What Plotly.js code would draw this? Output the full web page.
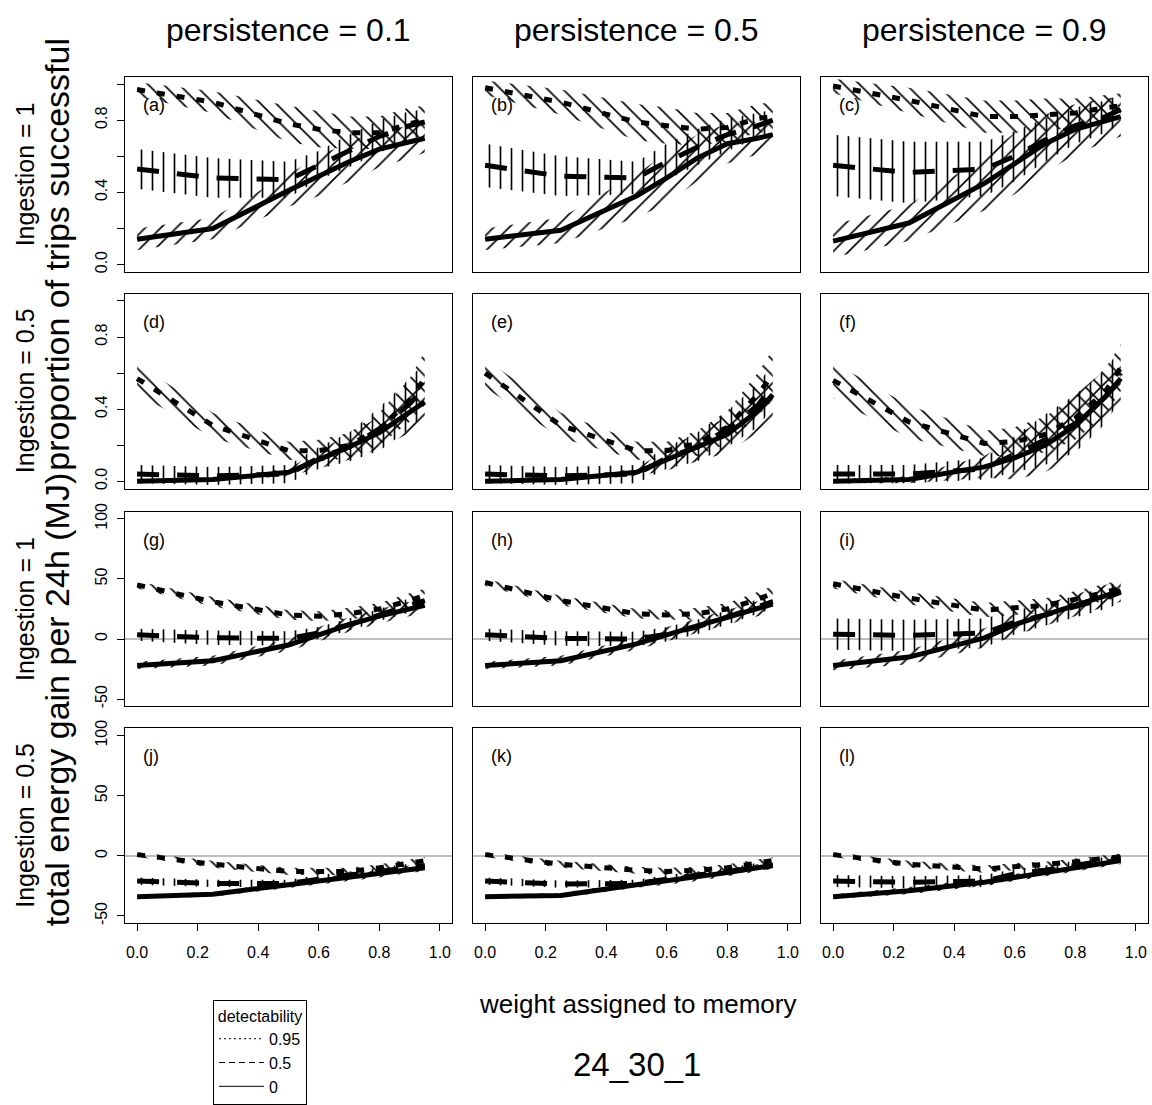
<!DOCTYPE html>
<html>
<head>
<meta charset="utf-8">
<script src="https://cdn.plot.ly/plotly-3.0.1.min.js"></script>
<style>html,body{margin:0;padding:0;background:#fff;}#chart{width:1152px;height:1105px;}</style>
</head>
<body>
<div id="chart"></div>
<script>
// ---------- data ----------
const memoryWeight = [0, 0.25, 0.5, 0.6, 0.7, 0.8, 0.9, 0.95];
const persistenceLabels = ['persistence = 0.1', 'persistence = 0.5', 'persistence = 0.9'];
const ingestionLabels = ['Ingestion = 1', 'Ingestion = 0.5', 'Ingestion = 1', 'Ingestion = 0.5'];
const panelLetters = ['(a)','(b)','(c)','(d)','(e)','(f)','(g)','(h)','(i)','(j)','(k)','(l)'];
const detectabilityLabels = ['0.95', '0.5', '0'];
const xTickVals = [0, 0.2, 0.4, 0.6, 0.8, 1.0];
const xTickText = ['0.0', '0.2', '0.4', '0.6', '0.8', '1.0'];
const propTickVals = [0, 0.2, 0.4, 0.6, 0.8, 1.0];
const propTickText = ['0.0', '', '0.4', '', '0.8', ''];
const energyTickVals = [-50, 0, 50, 100];
const energyTickText = ['-50', '0', '50', '100'];

// proportion of trips successful, Ingestion = 1
const a_mean095 = [0.97, 0.90, 0.78, 0.75, 0.73, 0.73, 0.78, 0.80];
const a_half095 = [0.04, 0.06, 0.10, 0.10, 0.09, 0.09, 0.09, 0.08];
const a_mean050 = [0.53, 0.48, 0.47, 0.55, 0.63, 0.71, 0.77, 0.79];
const a_half050 = [0.11, 0.11, 0.10, 0.08, 0.09, 0.09, 0.08, 0.07];
const a_mean000 = [0.14, 0.20, 0.41, 0.49, 0.57, 0.64, 0.68, 0.70];
const a_half000 = [0.06, 0.06, 0.09, 0.11, 0.11, 0.10, 0.09, 0.08];

const b_mean095 = [0.98, 0.90, 0.79, 0.77, 0.75, 0.76, 0.81, 0.82];
const b_half095 = [0.04, 0.07, 0.10, 0.10, 0.09, 0.08, 0.08, 0.08];
const b_mean050 = [0.55, 0.49, 0.48, 0.57, 0.65, 0.72, 0.77, 0.80];
const b_half050 = [0.12, 0.11, 0.09, 0.10, 0.10, 0.09, 0.07, 0.06];
const b_mean000 = [0.14, 0.19, 0.38, 0.48, 0.59, 0.67, 0.70, 0.72];
const b_half000 = [0.06, 0.07, 0.12, 0.14, 0.13, 0.11, 0.09, 0.07];

const c_mean095 = [0.99, 0.91, 0.82, 0.82, 0.83, 0.84, 0.87, 0.88];
const c_half095 = [0.04, 0.07, 0.09, 0.09, 0.09, 0.08, 0.07, 0.07];
const c_mean050 = [0.55, 0.51, 0.53, 0.60, 0.69, 0.77, 0.82, 0.86];
const c_half050 = [0.17, 0.17, 0.15, 0.14, 0.12, 0.10, 0.09, 0.08];
const c_mean000 = [0.13, 0.23, 0.45, 0.56, 0.67, 0.75, 0.80, 0.82];
const c_half000 = [0.09, 0.10, 0.15, 0.17, 0.16, 0.14, 0.12, 0.11];

// proportion of trips successful, Ingestion = 0.5
const d_mean095 = [0.57, 0.31, 0.17, 0.17, 0.20, 0.29, 0.45, 0.57];
const d_half095 = [0.08, 0.07, 0.05, 0.06, 0.07, 0.09, 0.12, 0.15];
const d_mean050 = [0.04, 0.03, 0.04, 0.13, 0.19, 0.29, 0.43, 0.52];
const d_half050 = [0.05, 0.05, 0.05, 0.06, 0.08, 0.12, 0.14, 0.14];
const d_mean000 = [0.00, 0.01, 0.05, 0.12, 0.19, 0.27, 0.38, 0.44];
const d_half000 = [0.01, 0.01, 0.02, 0.05, 0.07, 0.09, 0.11, 0.12];

const e_mean095 = [0.60, 0.31, 0.17, 0.17, 0.21, 0.30, 0.48, 0.59];
const e_half095 = [0.08, 0.07, 0.05, 0.05, 0.07, 0.09, 0.12, 0.14];
const e_mean050 = [0.04, 0.03, 0.04, 0.13, 0.19, 0.29, 0.42, 0.53];
const e_half050 = [0.05, 0.05, 0.05, 0.06, 0.08, 0.10, 0.12, 0.12];
const e_mean000 = [0.00, 0.01, 0.05, 0.12, 0.19, 0.26, 0.39, 0.48];
const e_half000 = [0.01, 0.01, 0.02, 0.06, 0.08, 0.10, 0.12, 0.12];

const f_mean095 = [0.56, 0.33, 0.21, 0.22, 0.26, 0.35, 0.50, 0.63];
const f_half095 = [0.10, 0.09, 0.07, 0.08, 0.10, 0.12, 0.13, 0.13];
const f_mean050 = [0.04, 0.04, 0.07, 0.15, 0.23, 0.32, 0.47, 0.60];
const f_half050 = [0.05, 0.05, 0.06, 0.10, 0.14, 0.16, 0.15, 0.14];
const f_mean000 = [0.00, 0.01, 0.08, 0.13, 0.20, 0.31, 0.47, 0.57];
const f_half000 = [0.01, 0.02, 0.06, 0.12, 0.15, 0.17, 0.15, 0.13];

// total energy gain per 24h (MJ), Ingestion = 1
const g_mean095 = [45, 31, 20, 19, 21, 25, 32, 36];
const g_half095 = [3, 4, 4, 4, 5, 5, 6, 6];
const g_mean050 = [3.5, 1, 0.5, 5, 12, 20, 28, 32];
const g_half050 = [5, 6, 6, 5, 5, 5, 6, 6];
const g_mean000 = [-22, -18, -5, 4, 12, 19, 25, 28];
const g_half000 = [3, 4, 5, 6, 6, 6, 6, 6];

const h_mean095 = [47, 32, 21, 20, 21, 25, 33, 38];
const h_half095 = [3, 4, 4, 4, 5, 5, 6, 6];
const h_mean050 = [3.5, 0.5, 0, 4, 10, 18, 27, 31];
const h_half050 = [5, 6, 6, 6, 6, 6, 6, 6];
const h_mean000 = [-22, -18, -4, 4, 11, 18, 25, 29];
const h_half000 = [3, 4, 5, 6, 6, 6, 6, 6];

const i_mean095 = [46, 34, 24, 26, 28, 33, 39, 42];
const i_half095 = [4, 5, 6, 6, 6, 7, 7, 7];
const i_mean050 = [4, 3, 5, 14, 20, 27, 34, 39];
const i_half050 = [13, 13, 12, 10, 9, 9, 9, 9];
const i_mean000 = [-22, -15, 1, 12, 20, 28, 36, 40];
const i_half000 = [4, 6, 8, 9, 9, 9, 9, 9];

// total energy gain per 24h (MJ), Ingestion = 0.5
const j_mean095 = [1, -7, -13, -13, -13, -10, -6, -4];
const j_half095 = [2, 3, 3, 3, 3, 3, 3, 3];
const j_mean050 = [-21, -23, -23, -19, -16, -13, -10, -8];
const j_half050 = [3, 3, 3, 3, 3, 3, 3, 3];
const j_mean000 = [-34, -32, -24, -21, -18, -15, -11, -10];
const j_half000 = [1.5, 2, 2.5, 3, 3, 3, 3, 3];

const k_mean095 = [1, -7, -12, -13, -12, -10, -6, -4];
const k_half095 = [2, 3, 3, 3, 3, 3, 3, 3];
const k_mean050 = [-21, -23.5, -23, -19, -16, -13, -9, -8];
const k_half050 = [3, 3, 3, 3, 3, 3, 3, 3];
const k_mean000 = [-34, -33, -24, -21, -18, -14, -10, -8];
const k_half000 = [1.5, 2, 2.5, 3, 3, 3, 3, 3];

const l_mean095 = [1, -7, -11, -9, -8, -5, -2, -1];
const l_half095 = [2, 3, 3, 3, 3, 3, 3, 3];
const l_mean050 = [-21, -22, -21, -15, -12, -8, -4, -2];
const l_half050 = [5, 5, 5, 4, 4, 4, 3, 3];
const l_mean000 = [-34, -29, -22, -18, -14, -10, -6, -4];
const l_half000 = [2, 3, 3, 3, 3, 3, 3, 3];

// ---------- assemble ----------
const panelSeries = [
  [a_mean095, a_half095, a_mean050, a_half050, a_mean000, a_half000],
  [b_mean095, b_half095, b_mean050, b_half050, b_mean000, b_half000],
  [c_mean095, c_half095, c_mean050, c_half050, c_mean000, c_half000],
  [d_mean095, d_half095, d_mean050, d_half050, d_mean000, d_half000],
  [e_mean095, e_half095, e_mean050, e_half050, e_mean000, e_half000],
  [f_mean095, f_half095, f_mean050, f_half050, f_mean000, f_half000],
  [g_mean095, g_half095, g_mean050, g_half050, g_mean000, g_half000],
  [h_mean095, h_half095, h_mean050, h_half050, h_mean000, h_half000],
  [i_mean095, i_half095, i_mean050, i_half050, i_mean000, i_half000],
  [j_mean095, j_half095, j_mean050, j_half050, j_mean000, j_half000],
  [k_mean095, k_half095, k_mean050, k_half050, k_mean000, k_half000],
  [l_mean095, l_half095, l_mean050, l_half050, l_mean000, l_half000]
];

const W = 1152, H = 1105;
const colPx = [[125, 452], [473, 800], [821, 1148]];
const rowPx = [[77, 272], [294, 489], [512, 707], [729, 924]];
const FONT = 'Liberation Sans, Arial, Helvetica, sans-serif';

const hatchShapes = ['\\', '|', '/'];
const lineDashes = ['8px,12px', '22px,18px', 'solid'];

const traces = [];
const layout = {
  width: W, height: H,
  margin: {l: 0, r: 0, t: 0, b: 0},
  paper_bgcolor: '#ffffff', plot_bgcolor: '#ffffff',
  font: {family: FONT, color: '#000000', size: 16},
  showlegend: true,
  annotations: [],
  legend: {
    x: 213 / W, y: 1 - 1001 / H, xanchor: 'left', yanchor: 'top',
    bordercolor: '#000000', borderwidth: 1, bgcolor: '#ffffff',
    font: {family: FONT, size: 16, color: '#000000'},
    title: {text: 'detectability', side: 'top center', font: {family: FONT, size: 16}},
    itemwidth: 45, tracegroupgap: 0
  }
};

for (let p = 0; p < 12; p++) {
  const row = Math.floor(p / 3), col = p % 3;
  const id = p === 0 ? '' : String(p + 1);
  const xa = 'x' + id, ya = 'y' + id;
  const isProp = row < 2;
  layout['xaxis' + id] = {
    domain: [colPx[col][0] / W, colPx[col][1] / W],
    anchor: ya, range: [-0.04, 1.04],
    showline: true, mirror: true, linecolor: '#000000', linewidth: 1,
    showgrid: false, zeroline: false,
    ticks: row === 3 ? 'outside' : '', ticklen: 7, tickcolor: '#000000',
    tickvals: xTickVals, ticktext: xTickText,
    showticklabels: row === 3, ticklabelstandoff: 8,
    tickfont: {family: FONT, size: 16}
  };
  layout['yaxis' + id] = {
    domain: [1 - rowPx[row][1] / H, 1 - rowPx[row][0] / H],
    anchor: xa, range: isProp ? [-0.04, 1.04] : [-56, 106],
    showline: true, mirror: true, linecolor: '#000000', linewidth: 1,
    showgrid: false,
    zeroline: !isProp, zerolinecolor: '#bebebe', zerolinewidth: 1.5,
    ticks: col === 0 ? 'outside' : '', ticklen: 7, tickcolor: '#000000',
    tickvals: isProp ? propTickVals : energyTickVals,
    ticktext: isProp ? propTickText : energyTickText,
    tickangle: -90,
    showticklabels: col === 0, ticklabelstandoff: 4,
    tickfont: {family: FONT, size: 16}
  };

  const s = panelSeries[p];
  // hatched uncertainty bands
  for (let k = 0; k < 3; k++) {
    const mean = s[2 * k], half = s[2 * k + 1];
    const hi = mean.map((v, n) => v + half[n]);
    const lo = mean.map((v, n) => v - half[n]);
    traces.push({
      type: 'scatter', mode: 'lines', xaxis: xa, yaxis: ya,
      x: memoryWeight.concat(memoryWeight.slice().reverse()),
      y: hi.concat(lo.slice().reverse()),
      fill: 'toself', fillcolor: '#000000',
      fillpattern: {shape: hatchShapes[k], fgcolor: '#000000', bgcolor: 'rgba(0,0,0,0)', size: 11, solidity: 0.15},
      line: {width: 0, color: 'rgba(0,0,0,0)'},
      hoverinfo: 'skip', showlegend: false
    });
  }
  // mean lines
  for (let k = 0; k < 3; k++) {
    traces.push({
      type: 'scatter', mode: 'lines', xaxis: xa, yaxis: ya,
      x: memoryWeight, y: s[2 * k],
      line: {color: '#000000', width: 5, dash: lineDashes[k]},
      hoverinfo: 'skip', showlegend: false
    });
  }
  // panel letter
  layout.annotations.push({
    xref: xa + ' domain', yref: ya + ' domain', x: 0.05, y: 1 - 28 / 195,
    xanchor: 'left', yanchor: 'middle', showarrow: false,
    text: panelLetters[p], font: {family: FONT, size: 18}
  });
}

// legend entries (thin line samples)
const legendDashes = ['2px,3px', '6px,4px', 'solid'];
for (let k = 0; k < 3; k++) {
  traces.push({
    type: 'scatter', mode: 'lines', x: [null], y: [null], xaxis: 'x', yaxis: 'y',
    name: detectabilityLabels[k],
    line: {color: '#000000', width: 1, dash: legendDashes[k]},
    showlegend: true, hoverinfo: 'skip'
  });
}

// column titles
for (let c = 0; c < 3; c++) {
  layout.annotations.push({
    xref: 'paper', yref: 'paper', x: (colPx[c][0] + colPx[c][1]) / 2 / W, y: 1 - 30 / H,
    xanchor: 'center', yanchor: 'middle', showarrow: false,
    text: persistenceLabels[c], font: {family: FONT, size: 32}
  });
}
// row labels
for (let r = 0; r < 4; r++) {
  layout.annotations.push({
    xref: 'paper', yref: 'paper', x: 25 / W, y: 1 - (rowPx[r][0] + rowPx[r][1]) / 2 / H,
    xanchor: 'center', yanchor: 'middle', showarrow: false, textangle: -90,
    text: ingestionLabels[r], font: {family: FONT, size: 25}
  });
}
// outer y titles
layout.annotations.push({
  xref: 'paper', yref: 'paper', x: 57 / W, y: 1 - 255 / H,
  xanchor: 'center', yanchor: 'middle', showarrow: false, textangle: -90,
  text: 'proportion of trips successful', font: {family: FONT, size: 34}
});
layout.annotations.push({
  xref: 'paper', yref: 'paper', x: 57 / W, y: 1 - 700 / H,
  xanchor: 'center', yanchor: 'middle', showarrow: false, textangle: -90,
  text: 'total energy gain per 24h (MJ)', font: {family: FONT, size: 34}
});
// x title and figure id
layout.annotations.push({
  xref: 'paper', yref: 'paper', x: 637 / W, y: 1 - 1005 / H,
  xanchor: 'center', yanchor: 'middle', showarrow: false,
  text: 'weight assigned to memory', font: {family: FONT, size: 26}
});
layout.annotations.push({
  xref: 'paper', yref: 'paper', x: 637 / W, y: 1 - 1065 / H,
  xanchor: 'center', yanchor: 'middle', showarrow: false,
  text: '24_30_1', font: {family: FONT, size: 33}
});

Plotly.newPlot('chart', traces, layout, {staticPlot: true, displayModeBar: false});
</script>
</body>
</html>
